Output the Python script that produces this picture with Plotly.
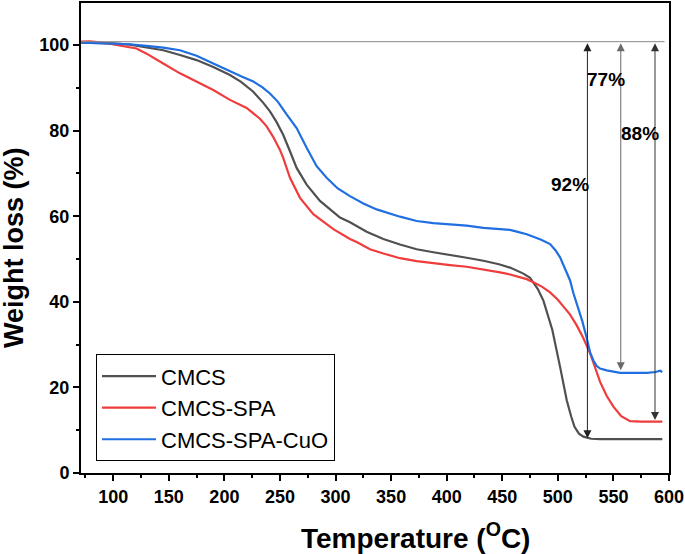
import plotly.graph_objects as go

# ---------------- data ----------------
cmcs_T = [71, 100, 115, 130, 145, 160, 175, 190, 205, 215, 226, 235, 241, 247, 253, 259, 265,
          274, 286, 304, 313, 328, 343, 358, 373, 388, 403, 418, 433, 447, 457, 469, 475, 478,
          482, 487, 491, 495, 502, 508, 512, 515, 519, 523, 530, 538, 560, 580, 594]
cmcs_W = [100.6, 100.4, 100.1, 99.5, 98.8, 97.7, 96.5, 94.9, 93.0, 91.4, 89.1, 86.5, 84.5, 82.0,
          79.0, 75.2, 71.3, 67.4, 63.6, 59.7, 58.6, 56.4, 54.7, 53.4, 52.3, 51.6, 51.0, 50.3,
          49.6, 48.8, 48.0, 46.6, 45.6, 44.6, 43.0, 40.3, 37.0, 33.5, 24.8, 17.0, 13.2, 10.8,
          9.2, 8.5, 8.0, 7.9, 7.9, 7.9, 7.9]

spa_T = [71, 79, 90, 100, 110, 121, 130, 137, 145, 160, 175, 190, 205, 220, 232, 238, 244, 250,
         253, 259, 268, 280, 298, 313, 319, 331, 343, 358, 373, 388, 403, 418, 433, 448, 457,
         472, 478, 486, 493, 500, 506, 511, 517, 523, 529, 533, 538, 544, 550, 557, 565, 575, 594]
spa_W = [100.8, 100.9, 100.6, 100.1, 99.7, 99.2, 98.0, 97.0, 95.7, 93.4, 91.5, 89.5, 87.2, 85.3,
         82.8, 81.0, 78.5, 75.5, 73.6, 69.0, 64.3, 60.5, 57.0, 54.7, 54.0, 52.3, 51.3, 50.2,
         49.5, 49.0, 48.6, 48.2, 47.6, 46.9, 46.4, 45.3, 44.6, 43.5, 42.2, 40.5, 38.6, 37.0,
         34.5, 31.5, 28.0, 25.0, 21.3, 18.0, 15.5, 13.3, 12.1, 12.0, 12.0]

cuo_T = [71, 100, 115, 130, 145, 160, 175, 190, 205, 216, 226, 234, 241, 248, 256, 265, 274, 283,
         292, 302, 313, 325, 337, 343, 358, 373, 388, 403, 418, 433, 448, 457, 463, 472, 478,
         485, 493, 498, 502, 506, 511, 514, 518, 522, 526, 529, 532, 535, 538, 544, 556, 568,
         580, 588, 592, 594]
cuo_W = [100.6, 100.4, 100.2, 99.8, 99.4, 98.8, 97.5, 95.7, 93.8, 92.6, 91.5, 90.2, 88.7, 86.8,
         83.8, 80.6, 76.0, 71.7, 69.0, 66.5, 64.7, 63.0, 61.6, 61.1, 59.9, 58.9, 58.4, 58.1,
         57.8, 57.3, 57.0, 56.8, 56.4, 55.8, 55.2, 54.5, 53.5, 52.0, 50.4, 48.0, 45.0, 42.0,
         38.7, 35.5, 31.5, 28.2, 26.3, 25.0, 24.4, 24.0, 23.4, 23.4, 23.4, 23.6, 23.9, 23.6]

series_names = ["CMCS", "CMCS-SPA", "CMCS-SPA-CuO"]
series_colors = ["#505050", "#f03c3c", "#1f6fe0"]

# reference (initial) level and arrows
ref_level = 100.8
ref_T = [71, 596]
arrow_T = [526.6, 556.6, 587.4]
arrow_bottom = [8.1, 24.0, 12.4]
arrow_colors = ["#222222", "#6a6a6a", "#333333"]
pct_labels = ["92%", "77%", "88%"]
pct_T = [511.3, 543.1, 573.6]
pct_W = [67.5, 91.9, 79.4]

x_ticks = [100, 150, 200, 250, 300, 350, 400, 450, 500, 550, 600]
y_ticks = [0, 20, 40, 60, 80, 100]

x_title = "Temperature (<sup>O</sup>C)"
y_title = "Weight loss (%)"

FONT = "Arial, 'Liberation Sans', sans-serif"

fig = go.Figure()
for T, W, name, col in zip([cmcs_T, spa_T, cuo_T], [cmcs_W, spa_W, cuo_W], series_names, series_colors):
    fig.add_trace(go.Scatter(x=T, y=W, mode="lines", name=name,
                             line=dict(color=col, width=2.2)))

fig.add_shape(type="line", x0=ref_T[0], x1=ref_T[1], y0=ref_level, y1=ref_level,
              xref="x", yref="y", line=dict(color="#8a8a8a", width=1))

for xa, yb, c in zip(arrow_T, arrow_bottom, arrow_colors):
    fig.add_annotation(x=xa, y=yb, ax=xa, ay=ref_level, xref="x", yref="y", axref="x", ayref="y",
                       text="", showarrow=True, arrowhead=2, startarrowhead=2,
                       arrowside="end+start", arrowsize=1.6, startarrowsize=1.6,
                       arrowwidth=1, arrowcolor=c)

for t, xp, yp in zip(pct_labels, pct_T, pct_W):
    fig.add_annotation(x=xp, y=yp, xref="x", yref="y", text=t, showarrow=False,
                       font=dict(family=FONT, size=19, color="black", weight="bold"))

# axis titles (placed as in the reference, slightly off-centre)
fig.add_annotation(x=0.5697, y=-0.1335, xref="paper", yref="paper", text=x_title,
                   showarrow=False, xanchor="center", yanchor="middle",
                   font=dict(family=FONT, size=28, color="black", weight="bold"))
fig.add_annotation(x=-0.114, y=0.481, xref="paper", yref="paper", text=y_title,
                   showarrow=False, xanchor="center", yanchor="middle", textangle=-90,
                   font=dict(family=FONT, size=27, color="black", weight="bold"))

fig.update_layout(
    width=685, height=554,
    margin=dict(l=81, r=16, t=1, b=81),
    paper_bgcolor="white", plot_bgcolor="white",
    font=dict(family=FONT, color="black"),
    showlegend=True,
    legend=dict(x=0.0255, y=0.025, xanchor="left", yanchor="bottom",
                bordercolor="black", borderwidth=1, bgcolor="white",
                font=dict(family=FONT, size=22, color="black"),
                itemwidth=54, tracegroupgap=0),
)

fig.update_xaxes(range=[71, 600], tickmode="array", tickvals=x_ticks,
                 ticktext=[str(v) for v in x_ticks],
                 showline=True, mirror=True, linecolor="black", linewidth=2,
                 ticks="outside", ticklen=6, tickwidth=1.5, tickcolor="black",
                 minor=dict(dtick=25, tick0=75, ticks="outside", ticklen=3, tickwidth=1.5,
                            tickcolor="black"),
                 showgrid=False, zeroline=False,
                 tickfont=dict(family=FONT, size=18, color="black", weight="bold"))
fig.update_yaxes(range=[0, 109.84], tickmode="array", tickvals=y_ticks,
                 ticktext=[str(v) for v in y_ticks],
                 showline=True, mirror=True, linecolor="black", linewidth=2,
                 ticks="outside", ticklen=6, tickwidth=1.5, tickcolor="black",
                 minor=dict(dtick=10, tick0=0, ticks="outside", ticklen=3, tickwidth=1.5,
                            tickcolor="black"),
                 showgrid=False, zeroline=False,
                 tickfont=dict(family=FONT, size=18, color="black", weight="bold"))

fig.write_html("out.html", config={"displayModeBar": False},
               post_script="document.body.style.margin='0px';document.body.style.overflow='hidden';")
